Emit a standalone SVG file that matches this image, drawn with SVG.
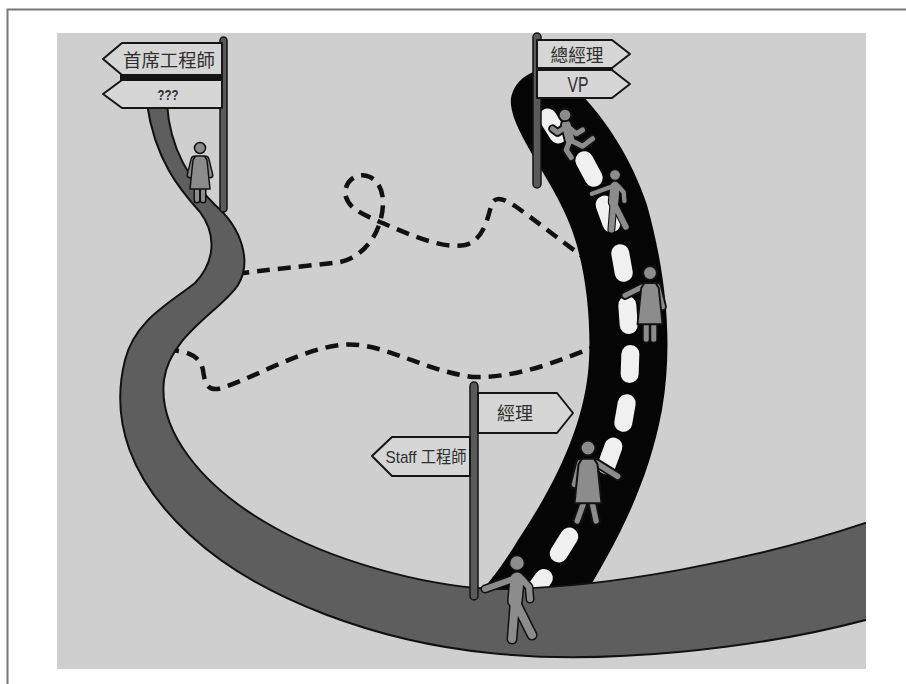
<svg xmlns="http://www.w3.org/2000/svg" width="906" height="684" viewBox="0 0 906 684">
  <style>
    .frame{fill:none;stroke:#777;stroke-width:2}
    .panel{fill:#cfcfcf}
    .road{fill:#5e5e5e;stroke:#111;stroke-width:2;stroke-linejoin:round}
    .fast{fill:#050505}
    .lane{fill:#f0f0f0}
    .trail{fill:none;stroke:#111;stroke-width:4.5;stroke-dasharray:13 8}
    .pole{fill:#5a5a5a;stroke:#151515;stroke-width:1.5}
    .sign{fill:#d6d6d6;stroke:#151515;stroke-width:2;stroke-linejoin:round}
    .band{fill:#151515}
    .lbl{font-family:"Liberation Sans","Noto Sans CJK TC",sans-serif;fill:#2e2e2e;text-anchor:middle}
    .ol{fill:none;stroke:#111;stroke-linecap:round;stroke-linejoin:round}
    .fl{fill:none;stroke:#8c8c8c;stroke-linecap:round;stroke-linejoin:round}
    .skin{fill:#8c8c8c;stroke:#111;stroke-width:1.5;stroke-linejoin:round}
  </style>
  <defs>
    <clipPath id="panelClip"><rect x="57" y="33" width="809" height="636"/></clipPath>
    <rect id="pill" x="-9" y="-19" width="18" height="38" rx="9"/>
    <!-- walking man pictogram, head at origin -->
    <g id="walker">
      <path class="ol" stroke-width="16" d="M0,16 L-2,38"/>
      <path class="ol" stroke-width="9" d="M-4,16 L-32,26 M5,16 L12,24 L13,36"/>
      <path class="ol" stroke-width="11" d="M-2,38 L-5,76 M-1,40 L15,72"/>
      <path class="fl" stroke-width="13" d="M0,16 L-2,38"/>
      <path class="fl" stroke-width="6" d="M-4,16 L-32,26 M5,16 L12,24 L13,36"/>
      <path class="fl" stroke-width="8" d="M-2,38 L-5,76 M-1,40 L15,72"/>
      <circle class="skin" r="7.5"/>
    </g>
  </defs>

  <!-- page frame -->
  <path class="frame" d="M7.5,684 V9.5 H906"/>

  <!-- background -->
  <rect class="panel" x="57" y="33" width="809" height="636"/>

  <g clip-path="url(#panelClip)">
    <!-- detours -->
    <g id="connectors">
      <path id="trail-upper" class="trail" d="M236,274 C280,268 320,265 340,262 C360,258 375,240 380,222 C385,205 385,185 370,177 C355,170 342,185 346,197 C350,210 365,215 380,222 C400,230 440,250 465,245 C485,240 488,215 492,203 C497,195 505,200 515,206 C535,220 560,240 582,256"/>
      <path id="trail-lower" class="trail" d="M166,350 C185,350 200,355 203,370 C205,385 208,392 222,388 C260,375 300,350 340,345 C380,340 420,370 473,377 C520,378 560,360 594,347"/>
    </g>

    <!-- fast lane -->
    <g id="fast-road">
      <path class="fast" d="M545,70 C525,70 509,88 511,105 C514,135 553,180 570,225 C586,265 591,320 589,360 C586,420 558,480 518,540 C503,565 488,585 473,600 L582,600 C612,550 647,490 662,410 C674,340 665,270 647,205 C632,160 607,120 577,90 C567,80 555,70 545,70 Z"/>
      <use href="#pill" class="lane" transform="translate(553,126) rotate(-32)"/>
      <use href="#pill" class="lane" transform="translate(589,169) rotate(-28)"/>
      <use href="#pill" class="lane" transform="translate(608,214) rotate(-20)"/>
      <use href="#pill" class="lane" transform="translate(622,263) rotate(-10)"/>
      <use href="#pill" class="lane" transform="translate(628,315) rotate(-4)"/>
      <use href="#pill" class="lane" transform="translate(630,364) rotate(2)"/>
      <use href="#pill" class="lane" transform="translate(625,413) rotate(10)"/>
      <use href="#pill" class="lane" transform="translate(610,456) rotate(20)"/>
      <use href="#pill" class="lane" transform="translate(564,545) rotate(32)"/>
      <use href="#pill" class="lane" transform="translate(538,586) rotate(36)"/>
    </g>

    <!-- main winding road -->
    <path id="main-road" class="road" d="M167,104 C170,150 190,180 215,205 C242,228 252,262 238,285 C222,310 170,335 164,380 C158,430 200,485 270,525 C330,560 420,585 490,589 C600,590 760,560 880,518 L880,616 C760,650 600,665 490,653 C380,642 260,600 190,535 C130,480 110,420 125,360 C135,320 170,303 195,283 C215,262 217,235 200,212 C180,190 155,160 147,104 Z"/>
  </g>

  <!-- signpost: top left -->
  <g id="post-chief">
    <rect class="pole" x="220" y="37" width="7" height="175" rx="3.5"/>
    <rect class="band" x="120" y="73" width="103" height="8"/>
    <polygon class="sign" points="103,59 122,43 222,43 222,75 122,75"/>
    <polygon class="sign" points="103,94 122,80 222,80 222,108 122,108"/>
    <text class="lbl" x="169" y="67" font-size="18" textLength="92" lengthAdjust="spacingAndGlyphs">首席工程師</text>
    <text class="lbl" x="168" y="100" font-size="15" font-weight="bold" textLength="21" lengthAdjust="spacingAndGlyphs">???</text>
  </g>

  <!-- signpost: top right -->
  <g id="post-gm">
    <rect class="pole" x="533" y="33" width="8" height="155" rx="4"/>
    <rect class="band" x="537" y="66" width="76" height="6"/>
    <polygon class="sign" points="537,40 612,40 630,54 612,68 537,68"/>
    <polygon class="sign" points="537,70 612,70 630,84 612,98 537,98"/>
    <text class="lbl" x="577" y="62" font-size="18" textLength="53" lengthAdjust="spacingAndGlyphs">總經理</text>
    <text class="lbl" x="578" y="92" font-size="22" textLength="21" lengthAdjust="spacingAndGlyphs">VP</text>
  </g>

  <!-- signpost: fork -->
  <g id="post-fork">
    <rect class="pole" x="470" y="382" width="8" height="218" rx="4"/>
    <polygon class="sign" points="478,393 557,393 573,413 557,433 478,433"/>
    <polygon class="sign" points="372,456 392,437 470,437 470,476 392,476"/>
    <text class="lbl" x="515" y="420" font-size="18" textLength="36" lengthAdjust="spacingAndGlyphs">經理</text>
    <text class="lbl" x="426" y="463" font-size="17" textLength="81" lengthAdjust="spacingAndGlyphs">Staff 工程師</text>
  </g>

  <!-- travellers -->
  <g id="woman-chief" transform="translate(200,148)">
    <path class="ol" stroke-width="7" d="M-6,11 L-10,27 M6,11 L10,27 M-3,40 L-3,52 M3,40 L3,52"/>
    <path class="fl" stroke-width="4" d="M-6,11 L-10,27 M6,11 L10,27 M-3,40 L-3,52 M3,40 L3,52"/>
    <path class="skin" d="M-4.5,8 H4.5 L7,12 L10,41 H-10 L-7,12 Z"/>
    <circle class="skin" r="5.5"/>
  </g>

  <g id="runner" transform="translate(565,115) scale(1.25)">
    <path class="ol" stroke-width="10" d="M1,8 L4,20"/>
    <path class="ol" stroke-width="7" d="M0,10 L-6,14 L-10,11 M3,10 L9,15 L14,12 M4,20 L1,28 L5,34 M4,20 L14,25 L22,19"/>
    <path class="fl" stroke-width="7" d="M1,8 L4,20"/>
    <path class="fl" stroke-width="4" d="M0,10 L-6,14 L-10,11 M3,10 L9,15 L14,12 M4,20 L1,28 L5,34 M4,20 L14,25 L22,19"/>
    <circle class="skin" r="5"/>
  </g>

  <use id="walker-vp" href="#walker" transform="translate(615,175) scale(0.72)"/>

  <g id="woman-upper" transform="translate(650,273) scale(1.25)">
    <path class="ol" stroke-width="7" d="M-6,11 L-20,18 M6,11 L10,27 M-3,40 L-3,53 M3,40 L3,53"/>
    <path class="fl" stroke-width="4" d="M-6,11 L-20,18 M6,11 L10,27 M-3,40 L-3,53 M3,40 L3,53"/>
    <path class="skin" d="M-4.5,8 H4.5 L7,12 L10,41 H-10 L-7,12 Z"/>
    <circle class="skin" r="5.5"/>
  </g>

  <g id="woman-lower" transform="translate(588,448) scale(1.35)">
    <path class="ol" stroke-width="7" d="M6,11 L22,21 M-6,11 L-10,27 M-3,40 L-8,54 M3,40 L6,54"/>
    <path class="fl" stroke-width="4" d="M6,11 L22,21 M-6,11 L-10,27 M-3,40 L-8,54 M3,40 L6,54"/>
    <path class="skin" d="M-4.5,8 H4.5 L7,12 L10,41 H-10 L-7,12 Z"/>
    <circle class="skin" r="5.5"/>
  </g>

  <use id="walker-start" href="#walker" transform="translate(517,563)"/>
</svg>
